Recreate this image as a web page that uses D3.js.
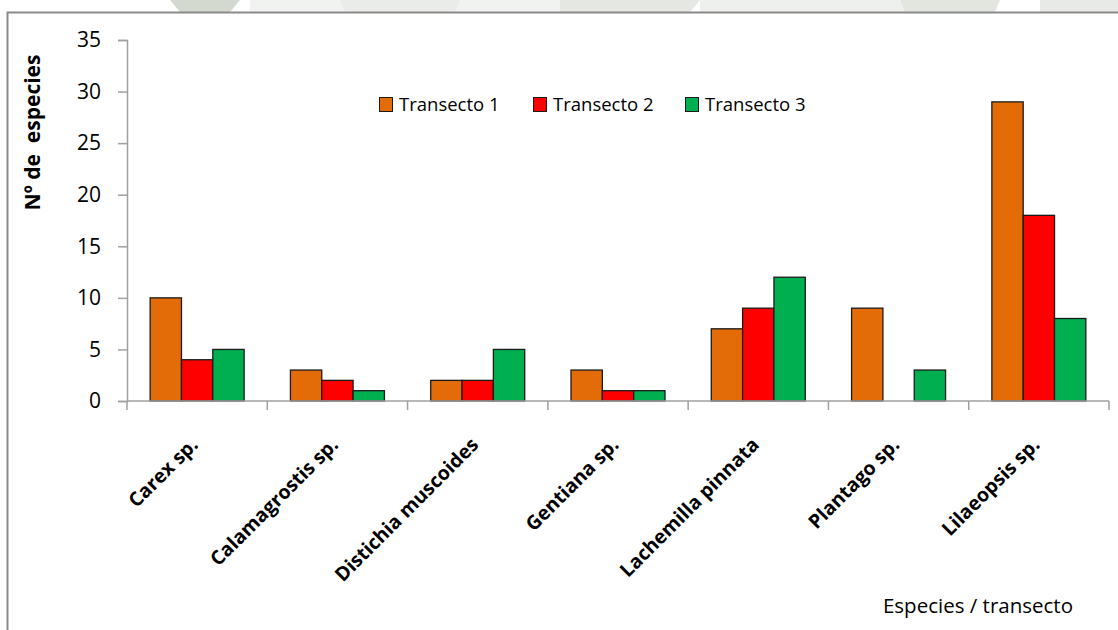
<!DOCTYPE html>
<html>
<head>
<meta charset="utf-8">
<script src="https://cdn.jsdelivr.net/npm/d3@7"></script>
<style>
  html, body { margin: 0; padding: 0; background: #fff; }
  svg { display: block; }
  text { font-family: "Open Sans", "DejaVu Sans", sans-serif; fill: #000; }
</style>
</head>
<body>
<svg id="chart" width="1118" height="630"></svg>
<script>
// Species and counts per transect
const species = ["Carex sp.", "Calamagrostis sp.", "Distichia muscoides", "Gentiana sp.",
                 "Lachemilla pinnata", "Plantago sp.", "Lilaeopsis sp."];
const seriesNames = ["Transecto 1", "Transecto 2", "Transecto 3"];
const transecto1 = [10, 3, 2, 3, 7, 9, 29];
const transecto2 = [4, 2, 2, 1, 9, 0, 18];
const transecto3 = [5, 1, 5, 1, 12, 3, 8];
const yTicks = [0, 5, 10, 15, 20, 25, 30, 35];
const colors = ["#E36C09", "#FF0000", "#00B050"];

const series = [transecto1, transecto2, transecto3];
const svg = d3.select("#chart");
const W = 1118, H = 630;

// faint background logo pieces above the chart frame
const bg = svg.append("g");
[
  {pts: [[170,0],[240,0],[230,12],[180,12]], c: "#d3d9cf"},
  {pts: [[250,0],[560,0],[560,12],[250,12]], c: "#f1f3f1"},
  {pts: [[340,0],[460,0],[455,12],[345,12]], c: "#eaece9"},
  {pts: [[560,0],[700,0],[690,12],[560,12]], c: "#e4e7e2"},
  {pts: [[700,0],[900,0],[905,12],[700,12]], c: "#eef0ed"},
  {pts: [[900,0],[1000,0],[995,12],[905,12]], c: "#e2e6df"},
  {pts: [[1040,0],[1118,0],[1118,12],[1040,12]], c: "#e8eae7"}
].forEach(s => bg.append("polygon")
  .attr("points", s.pts.map(p => p.join(",")).join(" "))
  .attr("fill", s.c));

// chart frame
svg.append("rect").attr("x", 7.5).attr("y", 12.5)
  .attr("width", W + 20).attr("height", H + 20)
  .attr("fill", "#fff").attr("stroke", "#8a8a8a").attr("stroke-width", 2);

const plot = {left: 127, right: 1109, top: 40, bottom: 401};

const x = d3.scaleBand().domain(species).range([plot.left, plot.right])
  .paddingInner(0).paddingOuter(0);
const groupPad = 0.165;
const xs = d3.scaleBand().domain(d3.range(3))
  .range([x.bandwidth() * groupPad, x.bandwidth() * (1 - groupPad)])
  .paddingInner(0).paddingOuter(0);
const y = d3.scaleLinear().domain([0, 35]).range([plot.bottom, plot.top]);

// bars
const groups = svg.append("g").selectAll("g").data(species).join("g")
  .attr("transform", d => `translate(${x(d)},0)`);
groups.selectAll("rect")
  .data((d, i) => series.map((s, k) => ({k, v: s[i]})).filter(o => o.v > 0))
  .join("rect")
  .attr("x", o => xs(o.k))
  .attr("width", xs.bandwidth())
  .attr("y", o => y(o.v))
  .attr("height", o => y(0) - y(o.v))
  .attr("fill", o => colors[o.k])
  .attr("stroke", "#1a1a1a").attr("stroke-width", 1.3);

// y axis
const yAxis = svg.append("g").attr("transform", `translate(${plot.left},0)`)
  .call(d3.axisLeft(y).tickValues(yTicks).tickSize(9).tickPadding(17));
yAxis.select(".domain").attr("stroke", "#a0a0a0").attr("stroke-width", 1.5);
yAxis.selectAll(".tick line").attr("stroke", "#a0a0a0").attr("stroke-width", 1.5);
yAxis.selectAll(".tick text").style("font-size", "21px").attr("fill", "#1a1a1a")
  .style("font-family", "'Open Sans', sans-serif");

// x axis with boundary ticks between categories
const xAxisG = svg.append("g").attr("transform", `translate(0,${plot.bottom})`);
xAxisG.append("line").attr("x1", plot.left).attr("x2", plot.right)
  .attr("stroke", "#a0a0a0").attr("stroke-width", 1.5);
const bounds = species.map(d => x(d)).concat([plot.right]);
xAxisG.selectAll("line.tk").data(bounds).join("line").attr("class", "tk")
  .attr("x1", d => d).attr("x2", d => d).attr("y1", 0).attr("y2", 9)
  .attr("stroke", "#a0a0a0").attr("stroke-width", 1.5);

// rotated category labels
svg.append("g").selectAll("text").data(species).join("text")
  .attr("transform", d => `translate(${x(d) + x.bandwidth() / 2 + 2},${plot.bottom + 45}) rotate(-45)`)
  .attr("text-anchor", "end")
  .style("font-size", "19.5px").style("font-weight", "bold")
  .text(d => d);

// axis titles
svg.append("text")
  .attr("transform", `translate(40,${(50 + 215) / 2}) rotate(-90)`)
  .attr("text-anchor", "middle")
  .style("font-size", "21px").style("font-weight", "bold")
  .style("white-space", "pre")
  .text("Nº de  especies");

svg.append("text").attr("x", 1073).attr("y", 613).attr("text-anchor", "end")
  .style("font-size", "20.5px")
  .text("Especies / transecto");

// legend
const legendX = [379, 533, 685];
const legend = svg.append("g").selectAll("g").data(seriesNames).join("g")
  .attr("transform", (d, i) => `translate(${legendX[i]},97)`);
legend.append("rect").attr("x", 0.5).attr("y", 0.5).attr("width", 13).attr("height", 14)
  .attr("fill", (d, i) => colors[i]).attr("stroke", "#1a1a1a").attr("stroke-width", 1);
legend.append("text").attr("x", 20).attr("y", 13.5)
  .style("font-size", "18.5px")
  .text(d => d);
</script>
</body>
</html>
